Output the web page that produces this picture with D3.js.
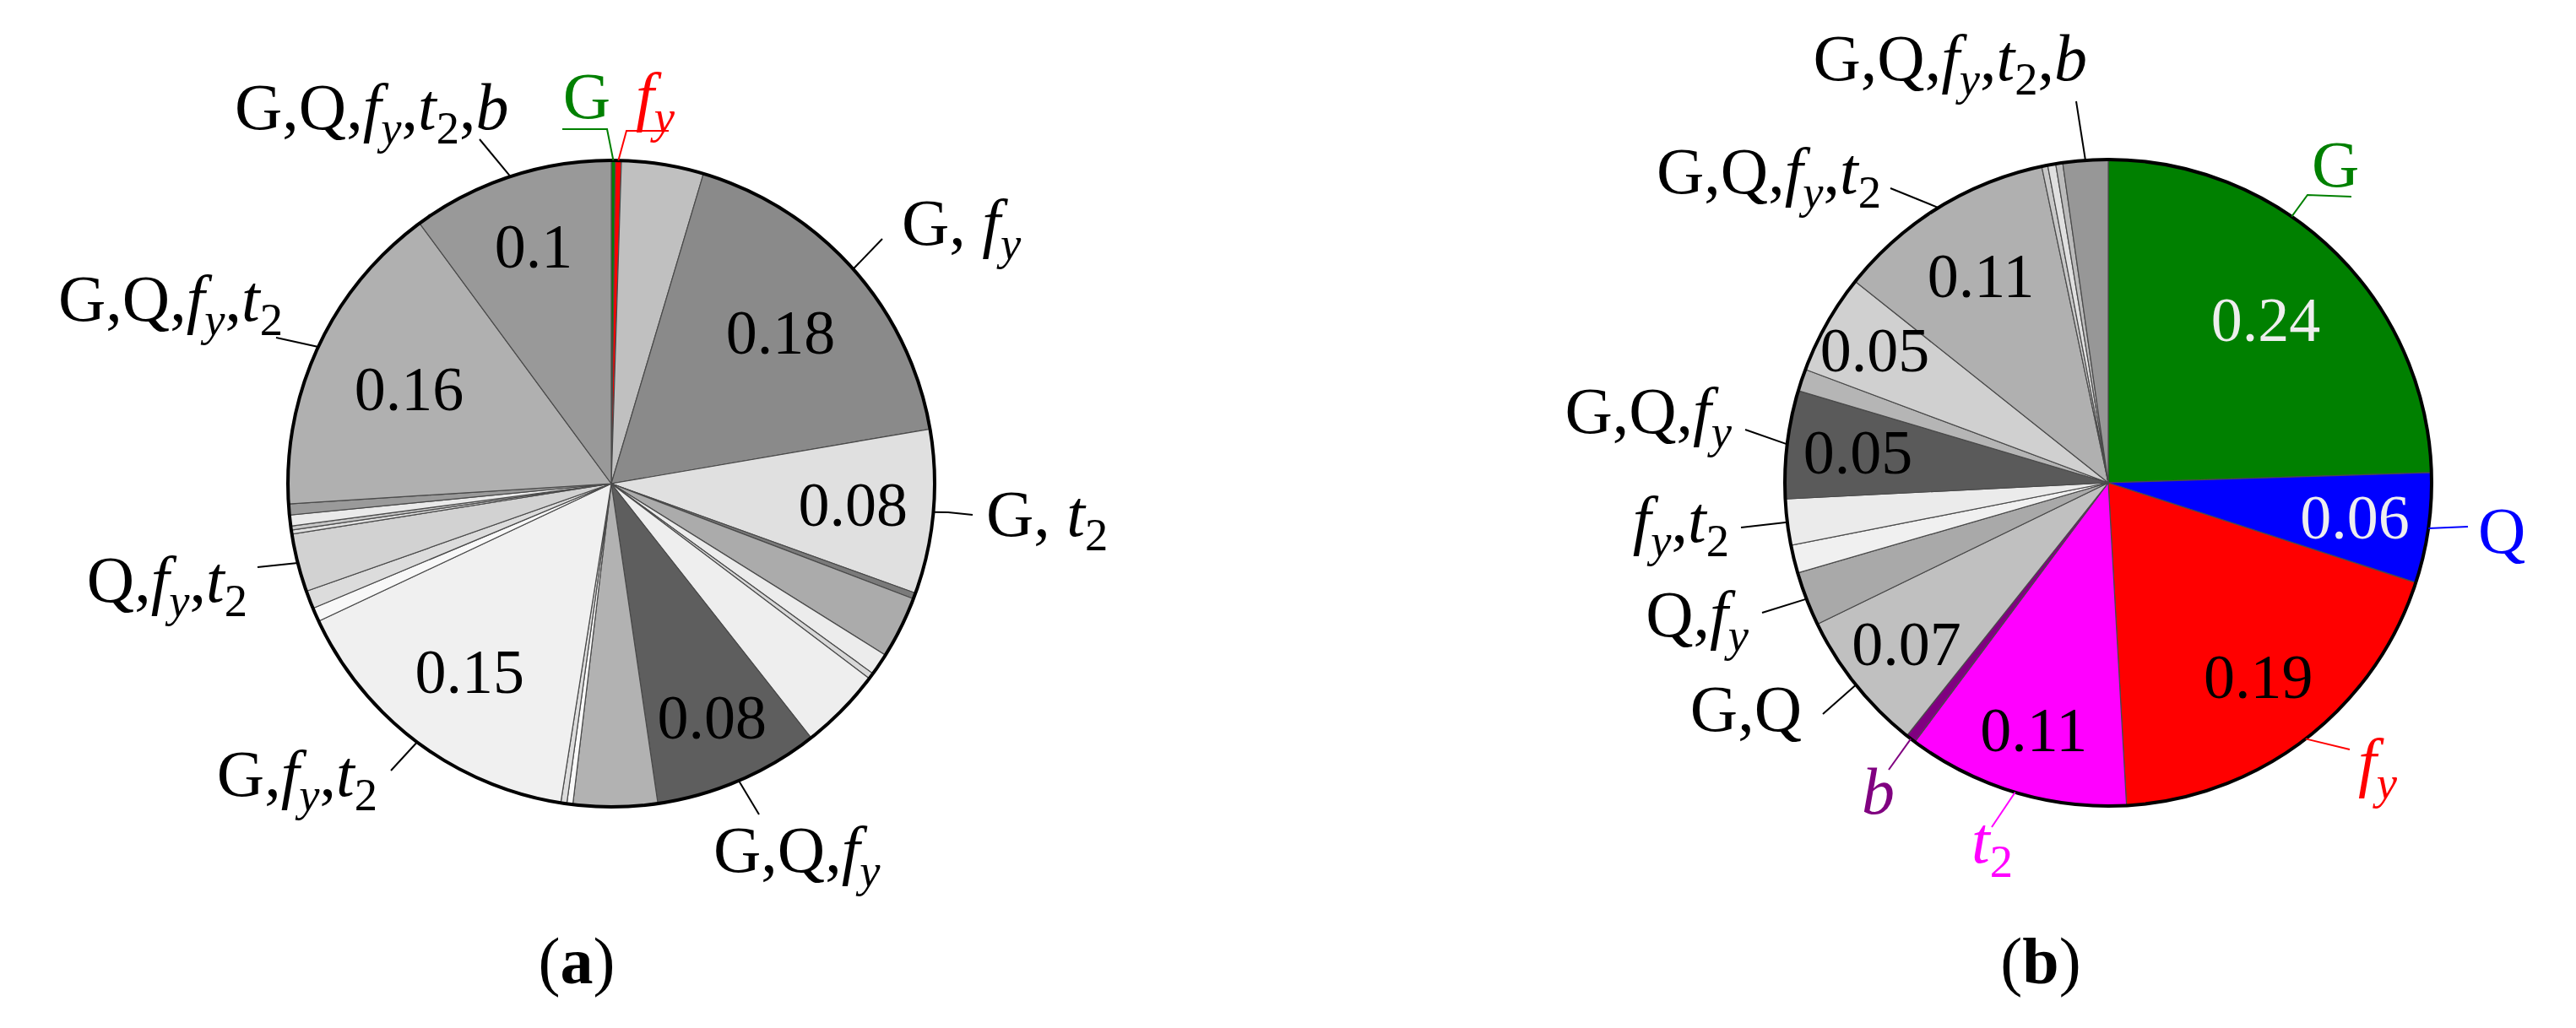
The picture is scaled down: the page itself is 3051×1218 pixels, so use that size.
<!DOCTYPE html>
<html>
<head>
<meta charset="utf-8">
<script src="https://cdn.jsdelivr.net/npm/d3@7/dist/d3.min.js"></script>
<style>
  body { margin: 0; background: #fff; }
  svg text { font-family: "Liberation Serif", "Times New Roman", serif; }
</style>
</head>
<body>
<div id="chart"></div>
<script>
// ---- data: (a) shares of each parameter combination
const namesA = ["G", "f_y", "", "G, f_y", "G, t_2", "", "", "", "", "", "G,Q,f_y", "", "", "",
  "G,f_y,t_2", "", "", "Q,f_y,t_2", "", "", "", "", "G,Q,f_y,t_2", "G,Q,f_y,t_2,b"];
const valuesA = [0.002, 0.003, 0.041, 0.177, 0.082, 0.003, 0.031, 0.011, 0.003, 0.041, 0.083, 0.042,
  0.003, 0.003, 0.155, 0.007, 0.009, 0.029, 0.002, 0.002, 0.0055, 0.0055, 0.159, 0.101];
const shownA = ["", "", "", "0.18", "0.08", "", "", "", "", "", "0.08", "", "", "",
  "0.15", "", "", "", "", "", "", "", "0.16", "0.1"];

// ---- data: (b)
const namesB = ["G", "Q", "f_y", "t_2", "b", "G,Q", "Q,f_y", "", "f_y,t_2", "G,Q,f_y", "", "",
  "G,Q,f_y,t_2", "", "", "", "G,Q,f_y,t_2,b"];
const valuesB = [0.245, 0.055, 0.191, 0.111, 0.005, 0.071, 0.027, 0.014, 0.023, 0.054, 0.011, 0.050,
  0.110, 0.003, 0.004, 0.0035, 0.0225];
const shownB = ["0.24", "0.06", "0.19", "0.11", "", "0.07", "", "", "", "0.05", "", "0.05", "0.11", "", "", "", ""];

const captions = ["a", "b"];

// ---- styles
const paramColor = { "G": "#008000", "Q": "#0000ff", "f_y": "#ff0000", "t_2": "#ff00ff", "b": "#800080" };
const greysA = ["", "", "#c0c0c0", "#8a8a8a", "#e0e0e0", "#7a7a7a", "#ababab", "#ececec", "#d8d8d8", "#eeeeee",
  "#5e5e5e", "#b2b2b2", "#fafafa", "#dddddd", "#f0f0f0", "#f8f8f8", "#dcdcdc", "#d2d2d2", "#e0e0e0",
  "#c8c8c8", "#eaeaea", "#9a9a9a", "#b0b0b0", "#999999"];
const greysB = ["", "", "", "", "", "#c0c0c0", "#a9a9a9", "#f0f0f0", "#ebebeb", "#5a5a5a", "#b5b5b5",
  "#d0d0d0", "#b0b0b0", "#c8c8c8", "#e0e0e0", "#bbbbbb", "#979797"];

const W = 3051, H = 1218, R = 383;
const LABEL_FS = 78, VALUE_FS = 74;

// where each leader bends and where its text sits (page coords)
const layoutA = [
  { i: 0, pts: [[719, 153], [666, 153]], x: 695, y: 140, anchor: "middle" },
  { i: 1, pts: [[742, 155], [792, 155]], x: 753, y: 140, anchor: "start" },
  { i: 23, pts: [[568, 165]], x: 278, y: 153, anchor: "start" },
  { i: 3, pts: [[1045, 283]], x: 1068, y: 290, anchor: "start" },
  { i: 4, pts: [[1123, 607], [1152, 610]], x: 1168, y: 635, anchor: "start" },
  { i: 10, pts: [[899, 965]], x: 845, y: 1033, anchor: "start" },
  { i: 14, pts: [[463, 913]], x: 447, y: 943, anchor: "end" },
  { i: 17, pts: [[305, 672]], x: 293, y: 713, anchor: "end" },
  { i: 22, pts: [[327, 400]], x: 335, y: 380, anchor: "end" }
];
const layoutB = [
  { i: 0, at: 0.096, pts: [[2733, 231], [2785, 233]], x: 2738, y: 221, anchor: "start" },
  { i: 1, pts: [[2923, 624]], x: 2935, y: 655, anchor: "start" },
  { i: 2, pts: [[2783, 888]], x: 2793, y: 929, anchor: "start" },
  { i: 3, pts: [[2359, 980]], x: 2335, y: 1022, anchor: "start" },
  { i: 4, pts: [[2237, 912]], x: 2205, y: 964, anchor: "start" },
  { i: 5, pts: [[2159, 846]], x: 2134, y: 866, anchor: "end" },
  { i: 6, pts: [[2087, 726]], x: 2071, y: 754, anchor: "end" },
  { i: 8, pts: [[2062, 625]], x: 2048, y: 642, anchor: "end" },
  { i: 9, pts: [[2067, 509]], x: 2051, y: 513, anchor: "end" },
  { i: 12, pts: [[2239, 223]], x: 2228, y: 229, anchor: "end" },
  { i: 16, pts: [[2459, 120]], x: 2472, y: 95, anchor: "end" }
];
// radius (fraction of R) of the value texts
const valueRA = { 3: 0.70, 4: 0.75, 10: 0.79, 14: 0.73, 22: 0.69, 23: 0.77 };
const valueRB = { 0: 0.70, 1: 0.77, 2: 0.76, 3: 0.80, 5: 0.80, 9: 0.78, 11: 0.83, 12: 0.75 };

const svg = d3.select("#chart").append("svg")
  .attr("width", W).attr("height", H)
  .style("display", "block");

const pie = d3.pie().sort(null).value(d => d);

// label like "G,Q,f_y,t_2" -> tspans, f y t b italic, "_" = subscript
function richText(text, str, fs) {
  let sub = false;
  for (let k = 0; k < str.length; k++) {
    let ch = str[k];
    let isSub = false;
    if (ch === "_") { ch = str[++k]; isSub = true; }
    const t = text.append("tspan").text(ch)
      .attr("font-size", isSub ? fs * 0.7 : fs)
      .attr("font-style", /[fytb]/.test(ch) ? "italic" : "normal");
    if (isSub && !sub) t.attr("dy", fs * 0.22);
    if (!isSub && sub) t.attr("dy", -fs * 0.22);
    sub = isSub;
  }
}

function drawPie(o) {
  const arcs = pie(o.values);
  const arc = d3.arc().innerRadius(0).outerRadius(R);
  const edge = d3.arc().innerRadius(R).outerRadius(R);
  const g = svg.append("g").attr("transform", `translate(${o.cx},${o.cy})`);

  g.selectAll("path.slice")
    .data(arcs)
    .enter()
      .append("path")
        .attr("class", "slice")
        .attr("d", arc)
        .attr("fill", (d, i) => paramColor[o.names[i]] || o.greys[i])
        .attr("stroke", "#4a4a4a")
        .attr("stroke-width", 1.2);

  g.append("circle")
    .attr("r", R)
    .attr("fill", "none")
    .attr("stroke", "#000")
    .attr("stroke-width", 4);

  g.selectAll("text.val")
    .data(arcs.filter((d, i) => o.shown[i] !== ""))
    .enter()
      .append("text")
        .attr("class", "val")
        .attr("transform", d => {
          let f = o.valueR[d.index] || 0.75;
          let c = d3.arc().innerRadius(R * f).outerRadius(R * f).centroid(d);
          return `translate(${c[0]},${c[1]})`;
        })
        .attr("dy", "0.33em")
        .attr("text-anchor", "middle")
        .attr("font-size", VALUE_FS)
        .attr("fill", d => (d.index < 2 && o.lightValues) ? "#eeeeee" : "#000")
        .text(d => o.shown[d.index]);

  const line = d3.line();
  o.layout.forEach(l => {
    const d = arcs[l.i];
    const name = o.names[l.i];
    const col = paramColor[name] || "#000";
    let p0;
    if (l.at !== undefined) {
      let a = l.at * 2 * Math.PI;
      p0 = edge.centroid({ startAngle: a, endAngle: a });
    } else {
      p0 = edge.centroid(d);
    }
    const pts = [[p0[0] + o.cx, p0[1] + o.cy]].concat(l.pts);
    svg.append("path")
      .attr("d", line(pts))
      .attr("fill", "none")
      .attr("stroke", col)
      .attr("stroke-width", 2);
    const t = svg.append("text")
      .attr("x", l.x).attr("y", l.y)
      .attr("text-anchor", l.anchor)
      .attr("fill", col)
      .style("white-space", "pre");
    richText(t, name, LABEL_FS);
  });

  const cap = svg.append("text")
    .attr("x", o.capX).attr("y", 1165)
    .attr("text-anchor", "middle")
    .attr("font-size", 78);
  cap.append("tspan").text("(");
  cap.append("tspan").attr("font-weight", "bold").text(o.caption);
  cap.append("tspan").text(")");
}

drawPie({ cx: 724, cy: 573, values: valuesA, names: namesA, shown: shownA, greys: greysA,
  valueR: valueRA, layout: layoutA, caption: captions[0], capX: 683, lightValues: false });
drawPie({ cx: 2497, cy: 572, values: valuesB, names: namesB, shown: shownB, greys: greysB,
  valueR: valueRB, layout: layoutB, caption: captions[1], capX: 2417, lightValues: true });
</script>
</body>
</html>
